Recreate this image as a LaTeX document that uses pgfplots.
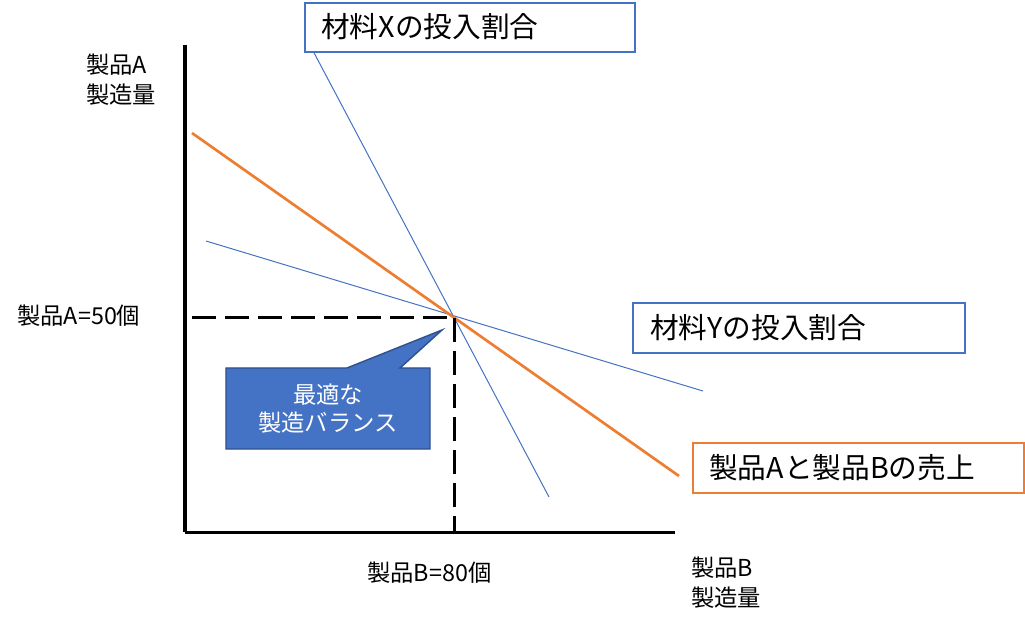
\documentclass[border=0pt]{standalone}
\usepackage{pgfplots}
\pgfplotsset{compat=1.18}
\usepackage{fontspec}
\setmainfont{Noto Sans CJK JP}
\definecolor{xblue}{HTML}{4472C4}
\definecolor{xorange}{HTML}{ED7D31}
\definecolor{xdark}{HTML}{2F528F}
\newcommand\bigf{\fontsize{21.5}{25}\selectfont}
\newcommand\smallf{\fontsize{17.5}{22.5}\selectfont}
\newcommand\callf{\fontsize{17.5}{21}\selectfont}
\begin{document}
\begin{tikzpicture}
\begin{axis}[
  x=2.521875pt, y=3.21pt,
  xmin=0, xmax=145.72, ymin=0, ymax=113.79,
  axis lines=left, axis line style={line width=2.25pt, -, black},
  ticks=none, clip=false, enlargelimits=false,
]
\addplot[xblue, line width=0.75pt] coordinates {(36.13,115.30) (108.25,8.18)};
\addplot[xblue, line width=0.75pt] coordinates {(6.25,67.99) (154.05,32.94)};
\addplot[xorange, line width=2pt] coordinates {(2.08,93.22) (146.91,13.08)};
\addplot[black, line width=2.25pt, dash pattern=on 18pt off 6.75pt] coordinates {(2.08,50) (80,50)};
\addplot[black, line width=2.25pt, dash pattern=on 18pt off 6.75pt] coordinates {(80,50) (80,0)};
\coordinate (P0) at (axis cs:-55.0186,124.299);
\end{axis}
\begin{scope}[shift={(P0)}, x=0.75pt, y=-0.75pt]
  % text boxes
  \draw[xblue, line width=1.5pt, fill=white] (305,3) rectangle (635,52);
  \node[anchor=west, inner sep=0pt, font=\bigf] at (321,27) {材料Xの投入割合};
  \draw[xblue, line width=1.5pt, fill=white] (633,303) rectangle (965,353);
  \node[anchor=west, inner sep=0pt, font=\bigf] at (650,328) {材料Yの投入割合};
  \draw[xorange, line width=1.5pt, fill=white] (693,443) rectangle (1024,493);
  \node[anchor=west, inner sep=0pt, font=\bigf] at (709,468) {製品Aと製品Bの売上};
  % callout
  \draw[xdark, line width=1.1pt, fill=xblue] (226,368) -- (347,368) -- (442,330) -- (400,368) -- (430,368) -- (430,449) -- (226,449) -- cycle;
  \node[align=center, inner sep=0pt, text=white, font=\callf] at (328,409) {最適な\\製造バランス};
  % labels
  \node[anchor=west, align=left, inner sep=0pt, font=\smallf] at (86,80) {製品A\\製造量};
  \node[anchor=west, inner sep=0pt, font=\smallf] at (17,316) {製品A=50個};
  \node[anchor=west, inner sep=0pt, font=\smallf] at (367,573) {製品B=80個};
  \node[anchor=west, align=left, inner sep=0pt, font=\smallf] at (691,583) {製品B\\製造量};
  \pgfresetboundingbox
  \useasboundingbox (0,0) rectangle (1025,629);
\end{scope}
\end{tikzpicture}
\end{document}
